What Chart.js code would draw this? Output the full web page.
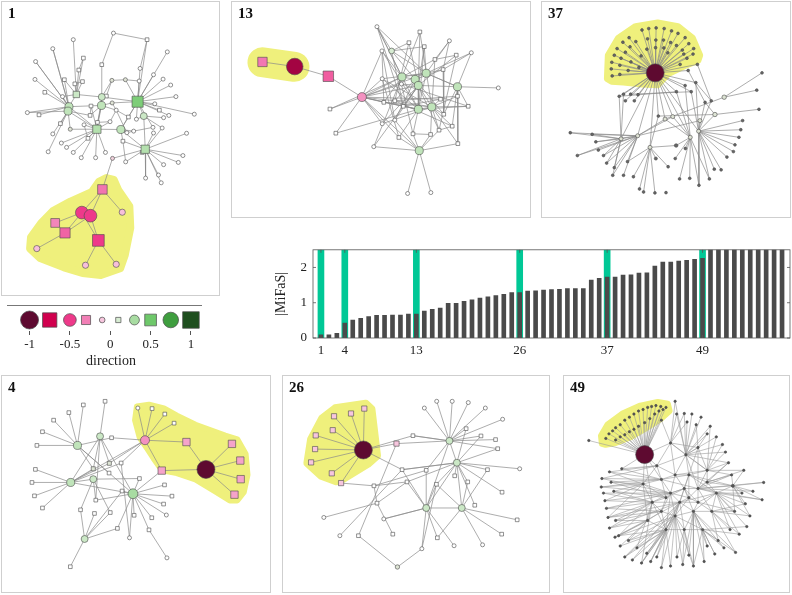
<!DOCTYPE html>
<html><head><meta charset="utf-8">
<script src="https://cdn.jsdelivr.net/npm/chart.js@4.4.0/dist/chart.umd.min.js"></script>
<style>
html,body{margin:0;padding:0;background:#fff;width:792px;height:595px;overflow:hidden;}
#wrap{position:relative;width:792px;height:595px;}
.box{position:absolute;box-sizing:border-box;border:1px solid #cfcfcf;}
canvas{position:absolute;}
.lab{position:absolute;font:bold 15px 'Liberation Serif',serif;line-height:15px;color:#111;}
.rule{position:absolute;border-top:1px solid #777;height:0;}
</style></head><body><div id="wrap"></div>
<script>
// ---------- bar chart data ----------
const MIFAS_VALUES = [0.09,0.09,0.13,0.42,0.51,0.56,0.61,0.64,0.64,0.65,0.65,0.68,0.68,0.76,0.81,0.85,0.98,0.98,1.04,1.08,
  1.13,1.17,1.20,1.24,1.29,1.29,1.33,1.34,1.36,1.37,1.38,1.40,1.40,1.40,1.64,1.69,1.73,1.73,1.78,1.79,
  1.84,1.85,2.04,2.15,2.15,2.18,2.20,2.23,2.26,2.55,2.6,2.7,2.8,2.9,3.0,3.1,3.3,3.5,3.8];
const HIGHLIGHT_RANKS = [1,4,13,26,37,49];
const X_TICKS = [1,4,13,26,37,49];
const Y_TICKS = [0,1,2];
const Y_MAX = 2.5;

// ---------- direction colour legend ----------
const DIR_STOPS  = [-1,-0.75,-0.5,-0.3,-0.1,0.1,0.3,0.5,0.75,1];
const DIR_COLORS = ['#5e0a30','#d1004e','#ee3a8a','#f27fb6','#f7c6de','#d7ecd2','#a8dca2','#6ec86a','#3f9e3f','#1f4f1f'];
const LEGEND_DIRS   = [-1,-0.75,-0.5,-0.3,-0.1,0.1,0.3,0.5,0.75,1];
const LEGEND_SQUARE = [0,1,0,1,0,1,0,1,0,1];
const DIR_TICKS = [-1,-0.5,0,0.5,1];

// ---------- networks: nodes [x, y, direction, isSquare], links [node, [neighbours]] ----------
const P1_NODES = [
 [101.7,192,-0.33,1],[79.3,216.7,-0.5,0],[88.7,220,-0.5,0],[50.3,227.7,-0.28,1],[61,238.3,-0.38,1],
 [97.3,246.3,-0.5,1],[123.3,216.3,-0.12,0],[30.3,255,-0.12,0],[83.3,272.7,-0.12,0],[116.7,271.7,-0.12,0],
 [140,98.7,0.45,1],[148.3,149.3,0.25,1],[95.7,128,0.25,1],[73.3,91,0.15,1],[65.3,104,0.2,0],
 [64.3,108.7,0.2,0],[101,93.7,0.15,0],[100.7,102.7,0.2,0],[121.7,128.3,0.2,0],[146.7,114,0.15,0],
 [113.7,25.7,0,0],[150.3,32.7,0,1],[70,32.7,0,0],[47.7,42.3,0,0],[81,52.3,0,1],
 [172.3,45.7,0,0],[29,56,0,0],[101,59.3,0,1],[142.7,63.3,0,0],[76,65,0,1],
 [28.3,75,0,0],[60.3,75.3,0,1],[71.7,79.7,0,1],[80,77.3,0,1],[112,76,0.05,0],
 [126.7,75.3,0.05,0],[141.7,76.7,0,0],[157.3,70,0,0],[167.7,74.7,0,0],[39,88.7,0,1],
 [58.3,93.3,0,0],[106,92.7,0,1],[176,81,0,0],[181.7,93.3,0,0],[20,110.3,0,0],
 [32.7,112.7,0,1],[89.3,103.3,0,1],[112.3,100,0.05,0],[116.7,107.7,0,0],[158.7,101,0,0],
 [163.7,107.7,0,1],[201.7,112,0,0],[174,113.3,0,0],[88.3,113.3,0,1],[130,115,0,1],
 [138.7,117.3,0,0],[168.3,115.7,0,0],[56,122,0,1],[96.3,120.7,0,1],[110,120,0,0],
 [81.7,123.3,0,0],[66.7,128,0.05,0],[128.3,131.7,0,0],[135.7,130,0,0],[156.7,126,0,0],
 [166.7,126.7,0,0],[193.3,132.3,0,0],[47.7,133,0,0],[86,137.7,0,1],[124,140.7,0,1],
 [157.3,132,0,0],[57,142.7,0,0],[42.7,152,0,0],[62.7,147.3,0,0],[70,152.7,0,0],
 [78.7,158.3,0,0],[94.3,158.3,0,0],[105,152.7,0,0],[112.7,159,-0.05,0],[127,162.7,0,0],
 [145,152.7,0,1],[189.3,156,0,0],[168.3,165.7,0,0],[184.3,163.3,0,0],[148.7,180,0,0],
 [162.7,176.7,0,0],[165.7,185,0,0]
];
const P1_LINKS = [
 [0,[78,1,2,6]],[1,[2,3,4,5]],[2,[4,5]],[3,[4]],[4,[7]],[5,[8,9]],
 [10,[25,37,38,42,43,51,52,50,49,28,35,36,54,55,19,64,21,47,16,18]],
 [11,[81,82,83,84,85,86,66,65,70,79,78,80,69,18,19]],
 [14,[44,45,30,39,26,23,40,31,17,13,12]],
 [15,[57,67,53,61,72,44,12]],
 [12,[68,60,61,71,73,74,75,76,77,18,59,58,46,16,17]],
 [20,[21,27]],[21,[28]],[22,[13]],[24,[29,13]],[16,[13,34,41,17,27]],[18,[54,62,63,69]],
 [34,[35]],[32,[13,33]],[29,[13]],[31,[13]],[17,[47,48]],[47,[48]],[59,[48]],[41,[34]],
 [35,[36]],[46,[53]],[58,[59]],[62,[63]],[63,[64]],[23,[14]],[26,[14]],
 [13,[33,40]],[17,[53,58]],[19,[55,56,65]],[48,[54,62]],[60,[68]],[69,[79]]
];
const P1_HULL = [[106,180],[114,182],[119,193],[131,210],[132,233],[126,262],[121,276],[100,283],[80,281],[60,275],
 [34,265],[23,255],[24,243],[35,228],[48,215],[67,205],[90,195],[98,184]];

const P13_NODES = [
 [25,57.7,-0.32,1],[59.3,62.7,-0.85,0],[95,73.3,-0.4,1],[130.7,96,-0.25,0],[96.7,109,0,1],
 [103,135.3,0,1],[146.7,19.3,0,0],[192.3,25,0,1],[180.7,36.7,0,1],[223.7,34.7,0,0],
 [162.3,45.7,0.1,0],[197,41,0,1],[152,45.7,0,0],[247,47.7,0,0],[231,50.3,0,1],
 [208.3,55,0,1],[217,66,0,1],[199,70,0.2,0],[173.3,74,0.2,0],[187.3,76.7,0.2,0],
 [190.7,83.3,0.2,0],[232.3,84.7,0.2,0],[275.7,86,0,0],[152.3,76,0,0],[172.7,81.7,0,0],
 [214.3,98.3,0,1],[232.3,95,0,1],[154,101.7,0,1],[165.7,100,0,1],[174.7,106,0,1],
 [190.7,109.3,0.2,0],[205,106.7,0.2,0],[243.7,106,0,1],[217.7,114.7,0,1],[152.3,125,0,0],
 [165.7,121,0,0],[226.7,127.7,0,1],[212.7,132,0,1],[185,136,0,1],[203.7,136.7,0,1],
 [170,140,0,1],[232.7,146.7,0,1],[143.3,150,0,0],[191.7,154.3,0.2,0],[179.3,201,0,0],
 [204,200,0,0]
];
const P13_LINKS = [
 [0,[1]],[1,[2]],[2,[3]],
 [3,[4,5,23,24,27,28,29,18,20,30,34,40,43,12,17,25]],
 [43,[44,45,40,38,39,41,37,35,42]],
 [6,[10,18,30,29,17]],[7,[18,20,31]],[8,[10,20,28]],[9,[17,15,16]],[10,[11,17,19,29]],[11,[17,20,30]],
 [12,[18,35,27,30]],[13,[16,17,21]],[14,[15,20,37]],[15,[18,31]],[16,[17,19,33]],[17,[18,30,21]],
 [18,[19]],[19,[20]],[20,[30,31,29,35,24]],[21,[22,26,32,36,33,41,17,20]],[23,[17,30,31]],
 [24,[38,32]],[25,[31,29]],[26,[31]],[27,[30,18,31]],[28,[31,19]],[29,[30]],[30,[31,38,40]],
 [31,[32,33,37,36,39,41]],[32,[30]],[34,[31,20]],[35,[19]],[36,[37]],[38,[39]],[40,[23]],[42,[18,20]],
 [5,[30]],[4,[18]],[19,[37,33]],[28,[36,26]]
];
const P13_HULL = [[25,58],[59,63]];

const P37_NODES = [
 [114.3,69.3,-1,0],
 [86,30.7,0,0],[79.3,35.7,0,0],[73,42.7,0,0],[70,50,0,0],[67.3,57.7,0,0],[66.7,65,0,0],[67.7,72.7,0,0],[76,71,0,0],
 [76,61,0,0],[77.3,53.3,0,0],[82,46.7,0,0],[87,40.7,0,0],[93.3,35,0,0],[100,22.3,0,0],[107.3,20.7,0,0],[115.3,20,0,0],
 [124,20.7,0,0],[132,23.3,0,0],[139,26,0,0],[146.7,30.7,0,0],[150.7,37.3,0,0],[156,42.7,0,0],[155.3,48.7,0,0],[148.7,53.3,0,0],
 [141.3,60,0,0],[106,32,0,0],[115,33.3,0,0],[123.3,33.3,0,0],[131,36,0,0],[137.3,39.3,0,0],[143.7,44.3,0,0],[145.3,48.7,0,0],
 [105.3,43.3,0,0],[114.7,41.7,0,0],[123.7,42,0,0],[128,47.3,0,0],[88,57.3,0,0],[85,66.7,0,0],[96.7,63.3,0,0],[99,50.7,0,0],
 [75.3,95,0,0],[80,92.7,0,0],[87.7,92.7,0,0],[95.7,93.3,0,0],[82,100,0,0],[91.7,100,0,0],[137.3,90,0,0],[146.7,83.3,0,0],
 [153.3,90,0,0],[158.3,80,0,0],[160,60,0,0],[150,66.7,0,0],[175,100,0,0],[168.3,101.7,0,0],[189,96,0.06,0],[179,115,0.06,0],
 [230,69.3,0,0],[224.3,88.3,0,0],[226.7,109.3,0,0],[133.3,117.3,0.05,0],[125,120,0.05,0],[117.7,116.7,0,0],[162.7,121.7,0.05,0],[161.3,133.3,0.05,0],
 [152.3,140,0.05,0],[147,152.3,0,0],[137,149,0.04,0],[95.3,138.3,0.05,0],[77.3,141.7,0.05,0],[108.7,151,0.05,0],[115,163.3,0.03,0],
 [22.3,135,0,0],[46,136.7,0,0],[50,145,0,0],[52.7,154,0,0],[30,160,0,0],[58.3,160,0,0],[61.7,168.3,0,0],[70,173.3,0,0],
 [68.3,181.7,0,0],[80,181.7,0,0],[84.3,166.7,0,0],[90.7,183.3,0,0],[97.3,196.7,0,0],[101.7,200,0,0],[114,201,0,0],[126,200.7,0,0],
 [140.7,185.7,0,0],[151.7,185,0,0],[161.7,192.7,0,0],[173,185.7,0,0],[178.3,175,0,0],[185.7,175.7,0,0],[192,161.7,0,0],[199,155.7,0,0],
 [200.7,148.3,0,0],[205,140,0,0],[207,131.7,0,0],[209,121.7,0,0],[128.3,172.3,0,0],[136,163.3,0,0]
];
const P37_LINKS = [
 [0,[1,2,3,4,5,6,7,8,9,10,11,12,13,14,15,16,17,18,19,20,21,22,23,24,25,26,27,28,29,30,31,32,33,34,35,36,37,38,39,40]],
 [0,[41,42,43,44,45,46,47,48,49,50,51,52,60,61,62,68,69,70,65,64]],
 [68,[72,73,74,75,76,77,78,79,80,81,82,69,61,63,60]],
 [69,[72,73,74,76,77,78,79,80,41,42]],
 [70,[83,84,85,86,71,82,62,67,100]],
 [64,[94,95,96,97,98,99,92,93,91,90,63,56,53,54,50,49]],
 [65,[88,89,90,91,101,66,67,61,60,47,48]],
 [55,[57,58,61]],[56,[59,54,62]],[47,[41]],[49,[43]],[51,[53]],[52,[54]],[50,[53]]
];
const P37_HULL = [[62,76],[63,50],[74,31],[93,18],[117,14],[139,18],[155,31],[163,50],[161,56],[146,62],[128,71],[117,83],[100,82],[80,80],[67,79]];

const P4_NODES = [
 [211.3,94,-1,0],[145.7,62,-0.25,0],[190.3,64,-0.2,1],[163.7,95.3,-0.2,1],[239.3,66,-0.2,1],
 [248.3,84.3,-0.2,1],[248.7,104.7,-0.2,1],[242,121.7,-0.2,1],[138,26.7,0,0],[153.3,27.3,0,1],
 [167,33.3,0,1],[177,43.3,0,1],[73,67.7,0.2,0],[97.3,57.7,0.15,0],[65.7,108.3,0.2,0],
 [90,104.7,0.15,0],[132.7,120.7,0.3,0],[80.7,170.3,0.15,0],[102.7,19.3,0,1],[79.3,23.3,0,1],
 [63.7,31.7,0,1],[47.3,40,0,1],[35.3,52.7,0,1],[29.3,67.7,0,1],[109.7,59.3,0,1],
 [107.3,87.3,0.06,1],[120,87,0,1],[90,93.3,0.06,1],[107,98,0,1],[139.7,104,0,1],
 [27.7,94,0,1],[24,108.3,0,1],[26.7,123,0,1],[35.3,136.3,0,1],[92.7,127.7,0,1],
 [121,117.7,0,1],[76.3,138.3,0.04,1],[91.3,142.3,0.04,1],[108.3,141.3,0.04,1],[134,144.3,0,1],
 [116,158.7,0,1],[150,160.3,0,1],[166.7,111,0,1],[174.7,123.3,0,1],[165.7,132,0,1],
 [168.7,144,0,0],[153,147,0,1],[129,169,0,0],[169.3,191,0.03,0],[65.3,200.7,0,1]
];
const P4_LINKS = [
 [0,[2,3,4,5,6,7]],[1,[8,9,10,11,2,3,24,26,25]],[3,[16]],
 [12,[20,21,22,23,19,24,16,28,27]],[13,[18,27,25,16,14,34]],
 [14,[30,31,32,33,25,27,16,1,26]],[15,[29,34,38,36,14]],
 [16,[42,43,44,45,46,41,39,47,40,34,35,29]],[41,[48]],[17,[36,37,38,40,49,35]],[26,[47]]
];
const P4_HULL = [[137,25],[150,23],[166,27],[180,35],[200,45],[232,57],[245,61],[254,77],[256,100],[252,119],[245,128],
 [237,128],[221,118],[200,105],[180,98],[164,95],[155,82],[148,71],[140,59],[135,40]];

const P26_NODES = [
 [79.3,72.7,-1,0],[80.3,27.3,-0.1,1],[66,32.7,-0.1,1],[47.7,35.7,-0.1,1],[46.3,51,-0.1,1],
 [28,56.7,-0.1,1],[27.3,71.7,-0.1,1],[23,86.3,-0.1,1],[45.3,98.3,-0.1,1],[55.3,109,-0.1,1],
 [115,65.7,-0.1,1],[132.7,57,0,1],[121,94.3,0,1],[126.3,107.7,0,1],[90.7,112,0,1],
 [94,131,0,1],[101.3,148.3,0,0],[111,165,0,1],[74,166.7,0,1],[116,201,0.06,0],
 [142.3,181,0,0],[159,169,0.03,1],[177,177.7,0,0],[158,110.3,0.03,1],[147,95,0,1],
 [177.7,101,0,1],[191.7,107.7,0,1],[199.3,133.3,0,1],[213,94.3,0,1],[228.7,119,0,1],
 [247.7,93.3,0,0],[245,149.3,0,1],[228.3,165,0,1],[207.7,176.7,0,0],[36.7,146.7,0,0],
 [54,166.7,0,0],[190,49.3,0,1],[206,57.3,0,1],[221.7,61.3,0,1],[224,71.3,0,1],
 [229.3,39,0,0],[210.7,26.7,0,0],[192.3,20.7,0,0],[175,19.3,0,0],[158.3,19.3,0,0],
 [145,26.7,0,0],[172,62.7,0.15,0],[180,86.7,0.15,0],[147,136.3,0.15,0],[185.3,136.3,0.15,0]
];
const P26_LINKS = [
 [0,[1,2,3,4,5,6,7,8,9,10,11,12]],[10,[46]],[11,[46]],[12,[47,48]],
 [9,[14]],[14,[15,13,24]],[15,[34,17,13]],[18,[19,10]],[19,[20]],[20,[23]],[35,[12]],[16,[48]],
 [46,[45,44,43,42,41,40,38,39,37,36,47,48,24,11]],
 [47,[30,28,29,36,37,25,26,27,12,13,49,39,48,23]],
 [48,[16,20,21,22,23,24,49,13]],
 [49,[31,32,33,21,23,28,26]]
];
const P26_HULL = [[49,27],[82,22],[88,28],[94,79],[84,88],[58,104],[50,107],[34,101],[19,87],[23,61],[35,38]];

const P49_NODES = [
 [81.7,77.7,-1,0],
 [39.3,60,0,0],[42.7,55,0,0],[46.7,51.7,0,0],[50,48.3,0,0],[55,45,0,0],[60,40,0,0],[65,36.7,0,0],[70,33.3,0,0],
 [75,30,0,0],[80,28.3,0,0],[85,26,0,0],[89.3,25,0,0],[94,24,0,0],[99.3,25,0,0],[105,26,0,0],
 [50,61.7,0,0],[55,58.3,0,0],[60,56,0,0],[65,52.7,0,0],[70,50,0,0],[75,46.7,0,0],[81.7,42.7,0,0],
 [87.3,38.3,0,0],[92.7,33.3,0,0],[97.3,30,0,0],[101.7,28.3,0,0],
 [126.7,78,0,0],[110,120,0,0],[100,105,0,0],[120,130,0,0],[140,115,0,0],[90,130,0,0],[115,145,0,0],
 [135,140,0,0],[150,95,0,0],[95,90,0,0],[130,100,0,0],[80,110,0,0],[105,160,0,0],[145,160,0,0],
 [160,120,0,0],[178,112,0.03,0],[110,65,0,0],[140,70,0,0],[155,140,0,0],[125,115,0,0],
 [35,104,0,0],[34.3,113.3,0,0],[36.7,120,0,0],[38.3,128.3,0,0],[40,136.7,0,0],[41.7,146.7,0,0],
 [43.3,158.3,0,0],[49.3,168.3,0,0],[60,190,0,0],[68.3,193.3,0,0],[78.3,196.7,0,0],[88.3,195,0,0],
 [100,201.7,0,0],[110,200,0,0],[123.3,198.3,0,0],[135,200,0,0],[146.7,195,0,0],[158.3,186.7,0,0],
 [168.3,180,0,0],[181,185,0,0],[185,165,0,0],[196.7,145,0,0],[193.3,156.7,0,0],[210,127.3,0,0],
 [211.7,108.3,0,0],[173.3,86.7,0,0],[176.7,100,0,0],[166.7,66.7,0,0],[160,58.3,0,0],[153.3,46.7,0,0],
 [143.3,36.7,0,0],[133.3,33.3,0,0],[125,32.7,0,0],[116.7,33.3,0,0],[115,19.3,0,0],[20.7,62.3,0,0],
 [56.7,93.3,0,0],[43.3,96.7,0,0],[53.3,166.7,0,0],[73.3,180,0,0],[180,140,0,0],[191.7,131.7,0,0],
 [45,108,0,0],[48,118,0,0],[50,150,0,0],[55,178,0,0],[64,172,0,0],[84,186,0,0],[95,190,0,0],
 [117,190,0,0],[130,188,0,0],[150,178,0,0],[162,172,0,0],[175,160,0,0],[188,120,0,0],[200,118,0,0],
 [190,95,0,0],[170,75,0,0],[150,55,0,0],[138,45,0,0],[128,42,0,0],[100,40,0,0],
 [100,140,0,0],[125,160,0,0],[140,130,0,0],[115,100,0,0],[85,150,0,0],[130,125,0,0],[150,108,0,0],[105,125,0,0]
];
const P49_LINKS = [
 [0,[1,2,3,4,5,6,7,8,9,10,11,12,13,14,15,16,17,18,19,20,21,22,23,24,25,26,82,38,36,29,43,83,32]],
 [27,[76,77,78,79,80,81,74,75,72,43,44,35,37,36,31]],
 [28,[47,48,49,50,51,38,32,33,39,46,29,30]],
 [29,[47,84,83,48,36,38,31,37]],
 [30,[52,53,54,55,56,57,58,32,33,34,41,39]],
 [31,[70,71,72,73,42,41,35,44,45]],
 [32,[49,50,51,52,53,85,86,57,38,39]],
 [33,[57,58,59,60,61,62,54,55,40,34]],
 [34,[61,62,63,64,65,66,40,45,41]],
 [35,[74,75,76,72,73,44,37,43]],
 [36,[43,84,83,47,38]],[37,[46,41,42,44]],[38,[84,48,50,52]],
 [39,[55,56,57,58,59,60,86,85]],[40,[63,64,65,66,67,69,62]],
 [41,[67,68,69,70,87,88,42,45]],[42,[70,71,73,88,87,68]],[45,[87,88,67,68,66]],
 [46,[30,31,33,34,37,28]],[43,[79,80,81,44]],
 [109,[28,32,33,39,113,116,51,52,91]],
 [110,[33,34,39,40,61,62,96,97,30]],
 [111,[31,34,45,46,30,41,114,87]],
 [112,[29,36,37,43,46,28,27,35]],
 [113,[32,38,39,53,54,85,91,92,93]],
 [114,[28,30,37,46,31,33]],
 [115,[31,35,37,41,42,103,73,72]],
 [116,[28,29,32,38,46,90,89]],
 [89,[29,38]],[90,[38,32]],[91,[32]],[92,[39]],[93,[39,33]],[94,[39,33]],[95,[33,39]],[96,[33]],
 [97,[34]],[98,[40,34]],[99,[40,45]],[100,[45,41]],[101,[41,42]],[102,[42,31]],[103,[35,42]],
 [104,[35,27]],[105,[27,44]],[106,[27,44]],[107,[43,27]],[108,[43,0]]
];
const P49_HULL = [[35,66],[34,57],[41,45],[57,33],[77,24],[96,20],[107,22],[109,30],[99,39],[83,49],[66,59],[50,65],[39,67]];

// ---------- helpers ----------
const wrap = document.getElementById('wrap');
const SERIF = "'Liberation Serif', 'DejaVu Serif', serif";
function hexToRgb(h){return [1,3,5].map(i=>parseInt(h.slice(i,i+2),16));}
function dirColor(d){
  d = Math.max(-1, Math.min(1, d));
  for (let i=0;i<DIR_STOPS.length-1;i++){
    if (d <= DIR_STOPS[i+1]){
      const t=(d-DIR_STOPS[i])/(DIR_STOPS[i+1]-DIR_STOPS[i]);
      const a=hexToRgb(DIR_COLORS[i]), b=hexToRgb(DIR_COLORS[i+1]);
      return 'rgb('+a.map((v,k)=>Math.round(v+(b[k]-v)*t)).join(',')+')';
    }
  }
  return DIR_COLORS[DIR_COLORS.length-1];
}
function markRadius(d, square, rmin){
  const r = Math.max(rmin, 9*Math.sqrt(Math.abs(d)));
  return square ? r*1.3 : r;
}
function mkCanvas(left, top, w, h){
  const c=document.createElement('canvas');
  c.width=w; c.height=h;
  c.style.left=left+'px'; c.style.top=top+'px'; c.style.width=w+'px'; c.style.height=h+'px';
  wrap.appendChild(c); return c;
}
function mkDiv(cls, left, top, w, h, text){
  const d=document.createElement('div'); d.className=cls;
  d.style.left=left+'px'; d.style.top=top+'px';
  if (w!=null) d.style.width=w+'px'; if (h!=null) d.style.height=h+'px';
  if (text!=null) d.textContent=text;
  wrap.appendChild(d); return d;
}
const baseOpts = {responsive:false, animation:false, events:[], plugins:{legend:{display:false}, tooltip:{enabled:false}}};

function netChart(p){
  const c = mkCanvas(p.left, p.top, p.w, p.h);
  mkDiv('box', p.left, p.top, p.w, p.h);
  mkDiv('lab', p.left+7, p.top+5, null, null, p.label);
  const nodes = p.nodes;
  const edgeData = [];
  p.links.forEach(([a, list]) => list.forEach(b => {
    edgeData.push({x:nodes[a][0], y:nodes[a][1]}, {x:nodes[b][0], y:nodes[b][1]}, {x:nodes[b][0], y:null});
  }));
  const orderIdx = nodes.map((n,i)=>i).sort((i,j)=>Math.abs(nodes[i][2])-Math.abs(nodes[j][2]));
  const nd = orderIdx.map(i=>nodes[i]);
  const hull = p.hull;
  const hullPlugin = {id:'hull'+p.label, beforeDatasetsDraw(chart){
    const {ctx, scales:{x, y}} = chart;
    ctx.save(); ctx.beginPath();
    hull.forEach((q,i)=>{const px=x.getPixelForValue(q[0]), py=y.getPixelForValue(q[1]); i?ctx.lineTo(px,py):ctx.moveTo(px,py);});
    ctx.closePath();
    ctx.fillStyle='#eff07c'; ctx.strokeStyle='#eff07c';
    ctx.lineWidth=p.pad*2; ctx.lineJoin='round'; ctx.lineCap='round';
    ctx.fill(); ctx.stroke(); ctx.restore();
  }};
  new Chart(c, {
    type:'scatter',
    data:{datasets:[
      {data:nd.map(n=>({x:n[0], y:n[1]})), order:0,
       pointStyle: ctx => nd[ctx.dataIndex][3] ? 'rect' : 'circle',
       pointRadius: ctx => markRadius(nd[ctx.dataIndex][2], nd[ctx.dataIndex][3], p.rmin),
       backgroundColor: ctx => Math.abs(nd[ctx.dataIndex][2]) < 0.05 ? p.tinyFill : dirColor(nd[ctx.dataIndex][2]),
       borderColor:'#4a4a4a', borderWidth:0.6},
      {data:edgeData, showLine:true, spanGaps:false, pointRadius:0, borderColor:p.edgeColor, borderWidth:p.edgeWidth, order:1}
    ]},
    options:Object.assign({}, baseOpts, {
      layout:{padding:0},
      scales:{
        x:{type:'linear', display:false, min:p.ox, max:p.ox+p.w},
        y:{type:'linear', display:false, min:p.oy, max:p.oy+p.h, reverse:true}
      }
    }),
    plugins:[hullPlugin]
  });
}

netChart({label:'1',  left:1,   top:1,   w:219, h:295, ox:1, oy:1, nodes:P1_NODES,  links:P1_LINKS,  hull:P1_HULL,  pad:4,  rmin:2,   tinyFill:'#ffffff', edgeColor:'#8a8a8a', edgeWidth:0.7});
netChart({label:'13', left:231, top:1,   w:300, h:217, ox:1, oy:1, nodes:P13_NODES, links:P13_LINKS, hull:P13_HULL, pad:15, rmin:2,   tinyFill:'#ffffff', edgeColor:'#8a8a8a', edgeWidth:0.7});
netChart({label:'37', left:541, top:1,   w:250, h:217, ox:1, oy:1, nodes:P37_NODES, links:P37_LINKS, hull:P37_HULL, pad:3,  rmin:1.4, tinyFill:'#666666', edgeColor:'#8a8a8a', edgeWidth:0.7});
netChart({label:'4',  left:1,   top:375, w:270, h:218, ox:1, oy:1, nodes:P4_NODES,  links:P4_LINKS,  hull:P4_HULL,  pad:3,  rmin:2,   tinyFill:'#ffffff', edgeColor:'#8a8a8a', edgeWidth:0.7});
netChart({label:'26', left:282, top:375, w:268, h:218, ox:2, oy:1, nodes:P26_NODES, links:P26_LINKS, hull:P26_HULL, pad:4,  rmin:2,   tinyFill:'#ffffff', edgeColor:'#8a8a8a', edgeWidth:0.7});
netChart({label:'49', left:563, top:375, w:227, h:218, ox:3, oy:1, nodes:P49_NODES, links:P49_LINKS, hull:P49_HULL, pad:3,  rmin:1.2, tinyFill:'#555555', edgeColor:'#9a9a9a', edgeWidth:0.6});

// ---------- bar chart ----------
(function(){
  const c = mkCanvas(270, 236, 522, 130);
  const frame = {id:'frame', afterDatasetsDraw(chart){
    const {ctx, chartArea:a, scales:{x, y}} = chart;
    ctx.save(); ctx.strokeStyle='#555'; ctx.lineWidth=0.8;
    ctx.strokeRect(a.left, a.top, a.right-a.left, a.bottom-a.top);
    ctx.beginPath();
    Y_TICKS.forEach(v=>{const py=y.getPixelForValue(v); ctx.moveTo(a.left,py); ctx.lineTo(a.left+3,py); ctx.moveTo(a.right,py); ctx.lineTo(a.right-3,py);});
    X_TICKS.forEach(v=>{const px=x.getPixelForValue(v); ctx.moveTo(px,a.bottom); ctx.lineTo(px,a.bottom-3); ctx.moveTo(px,a.top); ctx.lineTo(px,a.top+3);});
    ctx.stroke(); ctx.restore();
  }};
  new Chart(c, {
    type:'bar',
    data:{datasets:[
      {data:MIFAS_VALUES.map((v,i)=>({x:i+1, y:v})), backgroundColor:'#4a4a4a', barThickness:4, grouped:false, order:0},
      {data:HIGHLIGHT_RANKS.map(r=>({x:r, y:Y_MAX})), backgroundColor:'#00c896', barThickness:6, grouped:false, order:1}
    ]},
    options:Object.assign({}, baseOpts, {
      layout:{padding:{top:8, right:2, left:0, bottom:0}},
      scales:{
        x:{type:'linear', min:0, max:60, offset:false, grid:{display:false, drawTicks:false}, border:{display:false},
           afterBuildTicks:s=>{s.ticks = X_TICKS.map(v=>({value:v}));},
           afterFit:s=>{s.height=28;},
           ticks:{font:{family:SERIF, size:13}, color:'#222', padding:5, maxRotation:0, autoSkip:false}},
        y:{type:'linear', min:0, max:Y_MAX, grid:{display:false, drawTicks:false}, border:{display:false},
           afterBuildTicks:s=>{s.ticks = Y_TICKS.map(v=>({value:v}));},
           afterFit:s=>{s.width=43;},
           ticks:{font:{family:SERIF, size:13}, color:'#222', padding:6},
           title:{display:true, text:'|MiFaS|', font:{family:SERIF, size:14}, color:'#222', padding:{top:3, bottom:0}}}
      }
    }),
    plugins:[frame]
  });
})();

// ---------- direction legend ----------
(function(){
  mkDiv('rule', 7, 305, 195, 0);
  const c = mkCanvas(0, 296, 222, 76);
  new Chart(c, {
    type:'scatter',
    data:{datasets:[{
      data:LEGEND_DIRS.map(d=>({x:d, y:0})),
      pointStyle: ctx => LEGEND_SQUARE[ctx.dataIndex] ? 'rect' : 'circle',
      pointRadius: ctx => markRadius(LEGEND_DIRS[ctx.dataIndex], LEGEND_SQUARE[ctx.dataIndex], 2),
      backgroundColor: ctx => dirColor(LEGEND_DIRS[ctx.dataIndex]),
      borderColor:'#4a4a4a', borderWidth:0.7
    }]},
    options:Object.assign({}, baseOpts, {
      layout:{padding:{top:13, left:0, right:0, bottom:0}},
      scales:{
        x:{type:'linear', min:-1.2124, max:1.2312,
           afterBuildTicks:s=>{s.ticks = DIR_TICKS.map(v=>({value:v}));},
           afterFit:s=>{s.height=41;},
           grid:{drawOnChartArea:false, drawTicks:true, tickLength:4, color:'#555'}, border:{display:false},
           ticks:{font:{family:SERIF, size:13}, color:'#222', padding:2, maxRotation:0, autoSkip:false, callback:v=>String(v)},
           title:{display:true, text:'direction', font:{family:SERIF, size:14}, color:'#222', padding:{top:0, bottom:2}}},
        y:{type:'linear', display:false, min:-1, max:1}
      }
    })
  });
})();
</script>
</body></html>
